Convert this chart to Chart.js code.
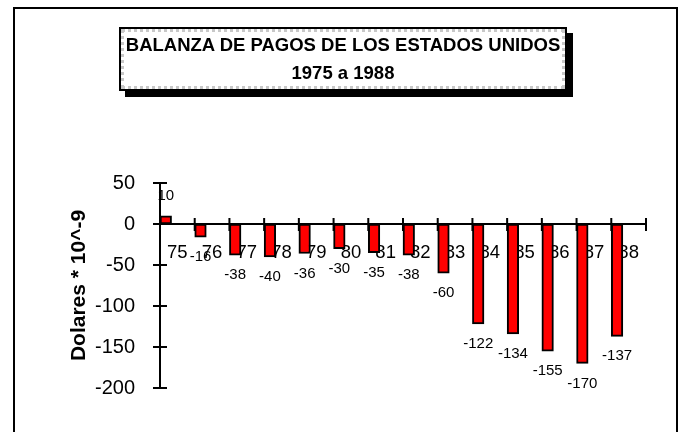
<!DOCTYPE html>
<html>
<head>
<meta charset="utf-8">
<script src="https://cdn.jsdelivr.net/npm/chart.js@4/dist/chart.umd.min.js"></script>
<style>
  html, body { margin: 0; padding: 0; background: #fff; }
  #wrap { position: relative; width: 681px; height: 432px; overflow: hidden; font-family: Arial, "Liberation Sans", sans-serif; }
  #grafico { position: absolute; left: 0; top: 0; }
  #marco { position: absolute; left: 13px; top: 7px; width: 661px; height: 460px; border: 2px solid #000; border-bottom: none; }
  #cajaTitulo { position: absolute; left: 119px; top: 27px; width: 448px; height: 64px; box-sizing: border-box;
    border: 2px solid #000; background: #fff; box-shadow: 6px 6px 0 #000; }
  #cajaTitulo .borde { position: absolute; left: 0; top: 0; right: 0; bottom: 0; border: 3px dotted #c8c8c8; }
  #titulo { position: absolute; left: 119px; top: 31px; width: 448px; text-align: center;
    font-weight: bold; font-size: 18.5px; line-height: 28px; color: #000; }
</style>
</head>
<body>
<div id="wrap">
  <div id="marco"></div>
  <canvas id="grafico" width="681" height="432"></canvas>
  <div id="cajaTitulo"><div class="borde"></div></div>
  <div id="titulo">BALANZA DE PAGOS DE LOS ESTADOS UNIDOS<br>1975 a 1988</div>
</div>
<script>
// ── Datos ──────────────────────────────────────────────────────────────
const anios  = ['75','76','77','78','79','80','81','82','83','84','85','86','87','88'];
const saldo  = [10, -16, -38, -40, -36, -30, -35, -38, -60, -122, -134, -155, -170, -137];
const yTicks = [50, 0, -50, -100, -150, -200];

const FONT = 'Arial, "Liberation Sans", sans-serif';

// crossing tick marks (both sides of each axis)
const cruces = {
  id: 'cruces',
  afterDraw(chart) {
    const { ctx, scales: { x, y } } = chart;
    const y0 = y.getPixelForValue(0);
    ctx.save();
    ctx.strokeStyle = '#000';
    ctx.lineWidth = 2;
    ctx.beginPath();
    const n = x.ticks.length;
    for (let k = 0; k <= n; k++) {
      const px = x.left + k * (x.width / n);
      ctx.moveTo(px, y0 - 6); ctx.lineTo(px, y0 + 7);
    }
    y.ticks.forEach((t, i) => {
      const py = y.getPixelForTick(i);
      ctx.moveTo(x.left - 7, py); ctx.lineTo(x.left + 7, py);
    });
    ctx.stroke();
    ctx.restore();
  }
};

// value labels under / over each bar
const etiquetas = {
  id: 'etiquetas',
  afterDatasetsDraw(chart) {
    const { ctx } = chart;
    const meta = chart.getDatasetMeta(0);
    ctx.save();
    ctx.font = '15px ' + FONT;
    ctx.fillStyle = '#000';
    ctx.textAlign = 'center';
    ctx.textBaseline = 'middle';
    meta.data.forEach((bar, i) => {
      const v = saldo[i];
      ctx.fillText(String(v), bar.x, v < 0 ? bar.y + 20 : bar.y - 20);
    });
    ctx.restore();
  }
};

new Chart(document.getElementById('grafico'), {
  type: 'bar',
  data: {
    labels: anios,
    datasets: [
      { label: 'Saldo', data: saldo, backgroundColor: '#ff0000', borderColor: '#000',
        borderWidth: 2, borderSkipped: false },
      { label: '', data: [] },
      { label: '', data: [] },
    ]
  },
  options: {
    responsive: false,
    animation: false,
    events: [],
    layout: { padding: { left: 0, top: 183, right: 35, bottom: 44 } },
    datasets: { bar: { categoryPercentage: 1, barPercentage: 1 } },
    plugins: { legend: { display: false }, tooltip: { enabled: false } },
    scales: {
      x: {
        type: 'category',
        position: { y: 0 },
        afterFit: s => { s.height = 0; },
        grid: { display: false },
        border: { display: true, color: '#000', width: 2 },
        ticks: { color: '#000', font: { family: FONT, size: 18.5 }, padding: 10, maxRotation: 0, autoSkip: false }
      },
      y: {
        min: -200, max: 50,
        afterFit: s => { s.width = 160; },
        afterBuildTicks: s => { s.ticks = yTicks.map(v => ({ value: v })); },
        grid: { display: false },
        border: { display: true, color: '#000', width: 2 },
        ticks: { color: '#000', font: { family: FONT, size: 20 }, padding: 17 },
        title: { display: true, text: 'Dolares * 10^-9', color: '#000',
          font: { family: FONT, size: 21, weight: 'bold' }, padding: { top: 67, bottom: 0 } }
      }
    }
  },
  plugins: [cruces, etiquetas]
});
</script>
</body>
</html>
